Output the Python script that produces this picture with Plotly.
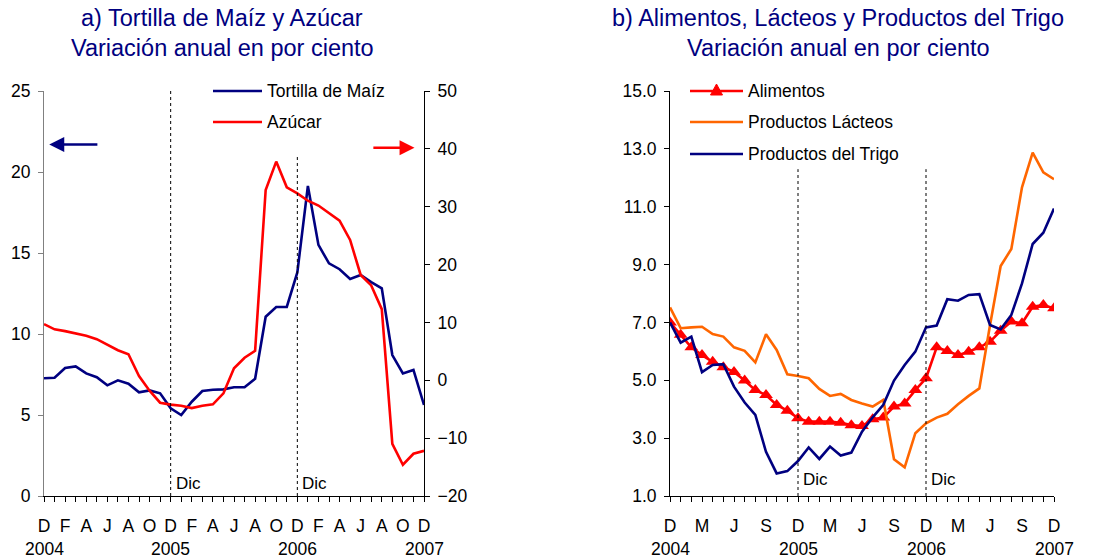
import plotly.graph_objects as go

# Monthly series, Dec 2004 .. Dec 2007 (37 months)
months = ["D", "E", "F", "M", "A", "M", "J", "J", "A", "S", "O", "N"] * 3 + ["D"]
years = ["2004", "2005", "2006", "2007"]

tortilla = [7.27, 7.3, 7.9, 8.0, 7.57, 7.33, 6.83, 7.14, 6.93, 6.4, 6.52, 6.34,
            5.41, 5.0, 5.82, 6.48, 6.56, 6.58, 6.71, 6.71, 7.24, 11.07, 11.67, 11.67,
            13.8, 19.14, 15.5, 14.36, 14.0, 13.4, 13.64, 13.2, 12.82, 8.7, 7.57, 7.78, 5.62]
azucar = [9.7, 8.8, 8.5, 8.1, 7.7, 7.1, 6.15, 5.2, 4.5, 0.74, -1.8, -3.87,
          -4.2, -4.4, -4.8, -4.4, -4.15, -2.25, 2.07, 3.9, 5.1, 32.9, 37.8, 33.35,
          32.3, 31.04, 30.2, 28.97, 27.6, 24.25, 18.2, 16.4, 12.3, -11.0, -14.6, -12.7, -12.2]

alimentos = [7.0, 6.57, 6.14, 5.87, 5.64, 5.45, 5.29, 4.99, 4.66, 4.49, 4.15, 3.95,
             3.69, 3.57, 3.57, 3.57, 3.53, 3.45, 3.42, 3.65, 3.71, 4.09, 4.2, 4.66,
             5.07, 6.14, 6.01, 5.87, 5.99, 6.14, 6.33, 6.71, 7.03, 6.97, 7.54, 7.6, 7.49]
lacteos = [7.52, 6.8, 6.83, 6.85, 6.6, 6.51, 6.14, 6.02, 5.62, 6.59, 6.05, 5.21,
           5.15, 5.07, 4.7, 4.46, 4.53, 4.32, 4.2, 4.09, 4.32, 2.27, 1.99, 3.17,
           3.51, 3.71, 3.84, 4.17, 4.46, 4.72, 6.9, 8.95, 9.54, 11.67, 12.87, 12.19, 11.95]
trigo = [7.0, 6.3, 6.51, 5.28, 5.53, 5.56, 4.78, 4.23, 3.8, 2.53, 1.78, 1.86,
         2.21, 2.68, 2.28, 2.71, 2.4, 2.5, 3.22, 3.72, 4.15, 4.99, 5.53, 5.99,
         6.83, 6.89, 7.8, 7.75, 7.95, 7.98, 6.91, 6.76, 7.26, 8.35, 9.71, 10.1, 10.94]

idx = list(range(len(months)))
dic_marks = [12, 24]

NAVY = "#000080"
RED = "#FF0000"
ORANGE = "#FF6600"
FONT = "Liberation Sans, Arial, sans-serif"
LW = 2.6

W, H = 1109, 559
def px_x(p):
    return p / W
def px_y(p):
    return (H - p) / H

fig = go.Figure()

# Panel a
fig.add_trace(go.Scatter(x=idx, y=tortilla, name="Tortilla de Maíz", mode="lines",
                         line=dict(color=NAVY, width=LW), xaxis="x", yaxis="y"))
fig.add_trace(go.Scatter(x=idx, y=azucar, name="Azúcar", mode="lines",
                         line=dict(color=RED, width=LW), xaxis="x", yaxis="y2"))

# Panel b
fig.add_trace(go.Scatter(x=idx, y=alimentos, name="Alimentos", mode="lines+markers",
                         line=dict(color=RED, width=LW),
                         marker=dict(symbol="triangle-up", size=12, color=RED),
                         xaxis="x2", yaxis="y3"))
fig.add_trace(go.Scatter(x=idx, y=lacteos, name="Productos Lácteos", mode="lines",
                         line=dict(color=ORANGE, width=LW), xaxis="x2", yaxis="y3"))
fig.add_trace(go.Scatter(x=idx, y=trigo, name="Productos del Trigo", mode="lines",
                         line=dict(color=NAVY, width=LW), xaxis="x2", yaxis="y3"))

ydom = [px_y(496), px_y(91)]
tick_font = dict(family=FONT, size=17.5, color="black")

left_text = [m if i % 2 == 0 else "" for i, m in enumerate(months)]
right_text = [m if i % 3 == 0 else "" for i, m in enumerate(months)]

xcommon = dict(range=[0, 36], tickvals=idx, ticks="outside", ticklen=5, tickwidth=1,
               tickcolor="black", showline=True, linecolor="black", linewidth=1,
               showgrid=False, zeroline=False, tickfont=tick_font, fixedrange=True,
               automargin=False, ticklabelstandoff=9, tickangle=0)

fig.update_layout(
    width=W, height=H, margin=dict(l=0, r=0, t=0, b=0),
    paper_bgcolor="white", plot_bgcolor="white",
    font=dict(family=FONT, size=16, color="black"),
    showlegend=False,
    xaxis=dict(domain=[px_x(44), px_x(424)], anchor="y", ticktext=left_text, **xcommon),
    yaxis=dict(domain=ydom, range=[0, 25], dtick=5, ticks="outside", ticklen=5,
               showline=True, linecolor="#808080", linewidth=1, tickcolor="#808080",
               showgrid=False, zeroline=False, tickfont=tick_font, anchor="x",
               automargin=False, ticklabelstandoff=4),
    yaxis2=dict(domain=ydom, range=[-20, 50], dtick=10, ticks="outside", ticklen=5,
                side="right", overlaying="y", anchor="x", showline=True,
                linecolor="black", linewidth=1, tickcolor="black", showgrid=False,
                zeroline=False, tickfont=tick_font, automargin=False,
                ticklabelstandoff=4),
    xaxis2=dict(domain=[px_x(670), px_x(1054)], anchor="y3", ticktext=right_text, **xcommon),
    yaxis3=dict(domain=ydom, range=[1, 15], tickvals=[1, 3, 5, 7, 9, 11, 13, 15],
                tickformat=".1f", ticks="outside", ticklen=5, showline=True,
                linecolor="black", linewidth=1, tickcolor="black", showgrid=False,
                zeroline=False, tickfont=tick_font, anchor="x2", automargin=False,
                ticklabelstandoff=4),
)

# Legends: line sample plus label, one row per series
legend_font = dict(family=FONT, size=17.5, color="black")
legend_rows = [
    (213, 262, 91, NAVY, "Tortilla de Maíz", False),
    (213, 262, 122, RED, "Azúcar", False),
    (690, 743, 91, RED, "Alimentos", True),
    (690, 743, 122, ORANGE, "Productos Lácteos", False),
    (690, 743, 154, NAVY, "Productos del Trigo", False),
]
for x0, x1, yy, col, label, tri in legend_rows:
    fig.add_shape(type="line", xref="paper", yref="paper",
                  x0=px_x(x0), x1=px_x(x1), y0=px_y(yy), y1=px_y(yy),
                  line=dict(color=col, width=LW))
    if tri:
        fig.add_shape(type="path", xref="paper", yref="paper",
                      xsizemode="pixel", ysizemode="pixel",
                      xanchor=px_x((x0 + x1) / 2), yanchor=px_y(yy),
                      path="M -6 -4 L 6 -4 L 0 7 Z",
                      fillcolor=col, line=dict(color=col, width=1))
    fig.add_annotation(xref="paper", yref="paper", x=px_x(x1 + 3), y=px_y(yy),
                       text=label, showarrow=False, xanchor="left", yanchor="middle",
                       font=legend_font)

# Dotted December reference lines with labels
dic_font = dict(family=FONT, size=17, color="black")
dic_tops_a = [1.0, 0.838]
for m, top in zip(dic_marks, dic_tops_a):
    fig.add_shape(type="line", xref="x", yref="y domain", x0=m, x1=m, y0=0, y1=top,
                  line=dict(color="black", width=1, dash="dot"))
    fig.add_annotation(xref="x", yref="y", x=m, y=0, text="Dic", showarrow=False,
                       xanchor="left", yanchor="bottom", xshift=3, yshift=1,
                       font=dic_font)
for m in dic_marks:
    fig.add_shape(type="line", xref="x2", yref="y3 domain", x0=m, x1=m, y0=0, y1=0.807,
                  line=dict(color="black", width=1, dash="dot"))
    fig.add_annotation(xref="x2", yref="y3", x=m, y=1, text="Dic", showarrow=False,
                       xanchor="left", yanchor="bottom", xshift=3, yshift=5,
                       font=dic_font)

# Year labels under the month initials
for xa in ["x", "x2"]:
    for k, yr in enumerate(years):
        fig.add_annotation(xref=xa, yref="paper", x=k * 12, y=px_y(549), text=yr,
                           showarrow=False, xanchor="center", yanchor="middle",
                           font=tick_font)

# Axis-side arrows
fig.add_annotation(xref="x", yref="y", x=0.5, y=21.7, ax=5.2, ay=21.7,
                   axref="x", ayref="y", showarrow=True, arrowhead=2, arrowsize=1.15,
                   arrowwidth=LW, arrowcolor=NAVY, text="")
fig.add_annotation(xref="x", yref="y2", x=35.1, y=40.2, ax=31.06, ay=40.2,
                   axref="x", ayref="y2", showarrow=True, arrowhead=2, arrowsize=1.15,
                   arrowwidth=LW, arrowcolor=RED, text="")

# Panel titles
title_font = dict(family=FONT, size=23.5, color=NAVY)
titles = [
    (222, 18, "a) Tortilla de Maíz y Azúcar"),
    (222, 48, "Variación anual en por ciento"),
    (838, 18, "b) Alimentos, Lácteos y Productos del Trigo"),
    (838, 48, "Variación anual en por ciento"),
]
for tx, ty, txt in titles:
    fig.add_annotation(xref="paper", yref="paper", x=px_x(tx), y=px_y(ty), text=txt,
                       showarrow=False, xanchor="center", yanchor="middle",
                       font=title_font)

fig.write_html("out.html")
